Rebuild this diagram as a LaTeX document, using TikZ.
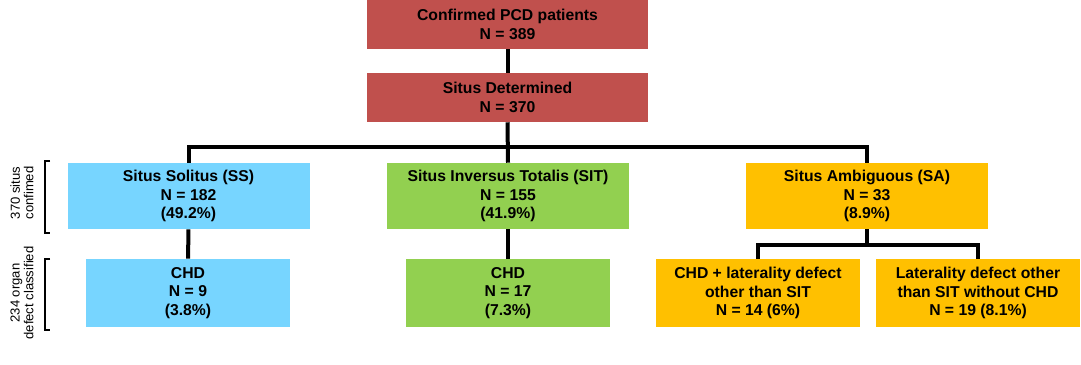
\documentclass[tikz,border=0pt]{standalone}
\usepackage{fontspec}
\setmainfont{Liberation Sans}
\definecolor{pcdred}{HTML}{C0504D}
\definecolor{ssblue}{HTML}{77D5FF}
\definecolor{sitgreen}{HTML}{92D050}
\definecolor{saorange}{HTML}{FFC000}
\tikzset{
  box/.style={fill=#1, draw=none, align=center, inner sep=0pt,
    font=\fontsize{11.8}{14}\selectfont\bfseries},
  wide/.style={minimum width=210.75pt, minimum height=36.75pt},
  mid/.style={minimum width=181.5pt, minimum height=49.5pt},
  low/.style={minimum width=153pt, minimum height=51pt},
  link/.style={line width=3pt},
  brace/.style={line width=1.4pt},
  side/.style={rotate=90, align=center, inner sep=0pt,
    font=\fontsize{9.8}{10.2}\selectfont}
}
\begin{document}
\begin{tikzpicture}[x=0.75pt,y=-0.75pt]
\useasboundingbox (0,0) rectangle (1081,364);
% top of the chart
\node[box=pcdred, wide] (pcd) at (507.5,24.5) {Confirmed PCD patients\\N = 389};
\node[box=pcdred, wide] (det) at (507.5,97.5) {Situs Determined\\N = 370};
% situs groups
\node[box=ssblue, mid] (ss) at (188.5,196) {Situs Solitus (SS)\\N = 182\\(49.2\%)};
\node[box=sitgreen, mid] (sit) at (508,196) {Situs Inversus Totalis (SIT)\\N = 155\\(41.9\%)};
\node[box=saorange, mid] (sa) at (867,196) {Situs Ambiguous (SA)\\N = 33\\(8.9\%)};
% organ defects
\node[box=ssblue, low] (sschd) at (188,293) {CHD\\N = 9\\(3.8\%)};
\node[box=sitgreen, low] (sitchd) at (508,293) {CHD\\N = 17\\(7.3\%)};
\node[box=saorange, low] (sachd) at (758,293) {CHD + laterality defect\\other than SIT\\N = 14 (6\%)};
\node[box=saorange, low] (salat) at (978,293) {Laterality defect other\\than SIT without CHD\\N = 19 (8.1\%)};
% connectors
\coordinate (bar) at (507.5,147);
\coordinate (sabar) at (867,245);
\draw[link] (pcd) -- (det);
\draw[link] (det.south) -- (sit.north);
\draw[link] (ss.north) -- (ss.north |- bar) -- (sa.north |- bar) -- (sa.north);
\draw[link] (ss) -- (sschd);
\draw[link] (sit) -- (sitchd);
\draw[link] (sa.south) -- (sabar);
\draw[link] (sachd.north) -- (sachd.north |- sabar) -- (salat.north |- sabar) -- (salat.north);
% side brackets
\draw[brace] (50,161) -- (45,161) -- (45,233) -- (50,233);
\draw[brace] (50,259) -- (45,259) -- (45,330) -- (50,330);
\node[side] (lblsitus) at (22,193) {370 situs\\confimed};
\node[side] (lblorgan) at (22,293) {234 organ\\defect classified};
\end{tikzpicture}
\end{document}
